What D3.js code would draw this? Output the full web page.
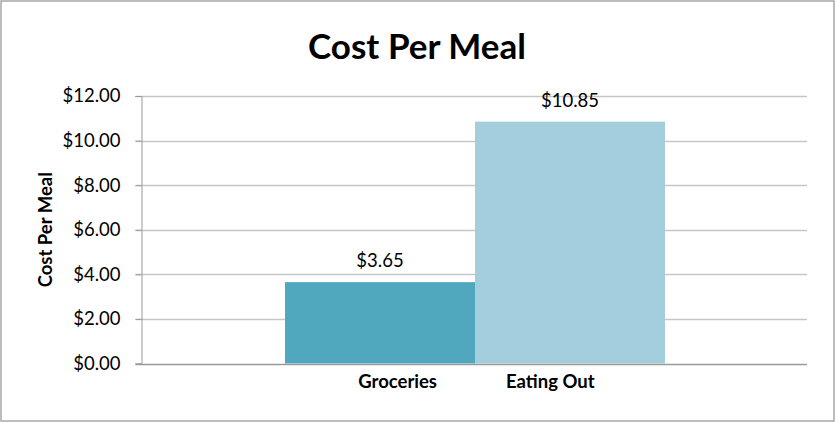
<!DOCTYPE html>
<html>
<head>
<meta charset="utf-8">
<script src="https://cdn.jsdelivr.net/npm/d3@7"></script>
<style>
  html, body { margin: 0; padding: 0; background: #fff; }
  svg { display: block; }
  text { font-family: Lato, "Open Sans", sans-serif; fill: #000; }
</style>
</head>
<body>
<svg id="chart" width="836" height="423"></svg>
<script>
// ---- data ----
const categories = ["Groceries", "Eating Out"];
const values = [3.65, 10.85];
const barColors = ["#50A8BF", "#A3CEDE"];
const yTicks = [0, 2, 4, 6, 8, 10, 12];
const title = "Cost Per Meal";
const yTitle = "Cost Per Meal";

// ---- layout ----
const W = 836, H = 423;
const plot = { left: 141.5, right: 807, top: 96, bottom: 363.5 };
const svg = d3.select("#chart");

svg.append("rect")
  .attr("x", 1).attr("y", 1).attr("width", W - 3).attr("height", H - 3)
  .attr("fill", "#fff").attr("stroke", "#a8a8a8").attr("stroke-width", 1.5);

const y = d3.scaleLinear().domain([0, 12]).range([plot.bottom, plot.top]);
const x = d3.scaleBand().domain(categories).range([285, 665]).padding(0);
const fmt = d3.format("$.2f");

// gridlines
svg.append("g").selectAll("line")
  .data(yTicks.filter(d => d > 0))
  .join("line")
  .attr("x1", plot.left - 6).attr("x2", plot.right)
  .attr("y1", d => Math.round(y(d)) + 0.5).attr("y2", d => Math.round(y(d)) + 0.5)
  .attr("stroke", "#c6c6c6").attr("stroke-width", 1.3);

// y axis
const yAxis = d3.axisLeft(y).tickValues(yTicks).tickFormat(fmt).tickSize(6).tickPadding(15);
const gy = svg.append("g").attr("transform", `translate(${plot.left},0)`).call(yAxis);
gy.select(".domain").attr("stroke", "#9a9a9a");
gy.selectAll(".tick line").attr("stroke", "#9a9a9a");
gy.selectAll(".tick text").style("font-size", "18.5px").style("font-family", "Lato, sans-serif").attr("fill", "#000");

// bars
svg.append("g").selectAll("rect")
  .data(categories)
  .join("rect")
  .attr("x", d => x(d))
  .attr("width", x.bandwidth())
  .attr("y", (d, i) => y(values[i]))
  .attr("height", (d, i) => y(0) - y(values[i]))
  .attr("fill", (d, i) => barColors[i]);

// baseline (x axis)
svg.append("line")
  .attr("x1", plot.left - 6).attr("x2", plot.right)
  .attr("y1", Math.round(y(0)) + 0.5).attr("y2", Math.round(y(0)) + 0.5)
  .attr("stroke", "#9a9a9a").attr("stroke-width", 1.3);

// value labels
svg.append("g").selectAll("text")
  .data(categories)
  .join("text")
  .attr("x", d => x(d) + x.bandwidth() / 2)
  .attr("y", (d, i) => y(values[i]) - 15)
  .attr("text-anchor", "middle")
  .style("font-size", "18.5px")
  .text((d, i) => fmt(values[i]));

// category labels (Excel-style placement around the shared bar edge)
const edge = x(categories[1]);
svg.append("g").selectAll("text")
  .data(categories)
  .join("text")
  .attr("x", (d, i) => i === 0 ? edge - 38 : edge + 31)
  .attr("y", plot.bottom + 24)
  .attr("text-anchor", (d, i) => i === 0 ? "end" : "start")
  .style("font-size", "18.5px").style("font-weight", "bold")
  .text(d => d);

// title
svg.append("text")
  .attr("x", 417).attr("y", 59)
  .attr("text-anchor", "middle")
  .style("font-size", "35px").style("font-weight", "bold")
  .text(title);

// y title
svg.append("text")
  .attr("transform", `translate(52,${(plot.top + plot.bottom) / 2}) rotate(-90)`)
  .attr("text-anchor", "middle")
  .style("font-size", "18.5px").style("font-weight", "bold")
  .text(yTitle);
</script>
</body>
</html>
